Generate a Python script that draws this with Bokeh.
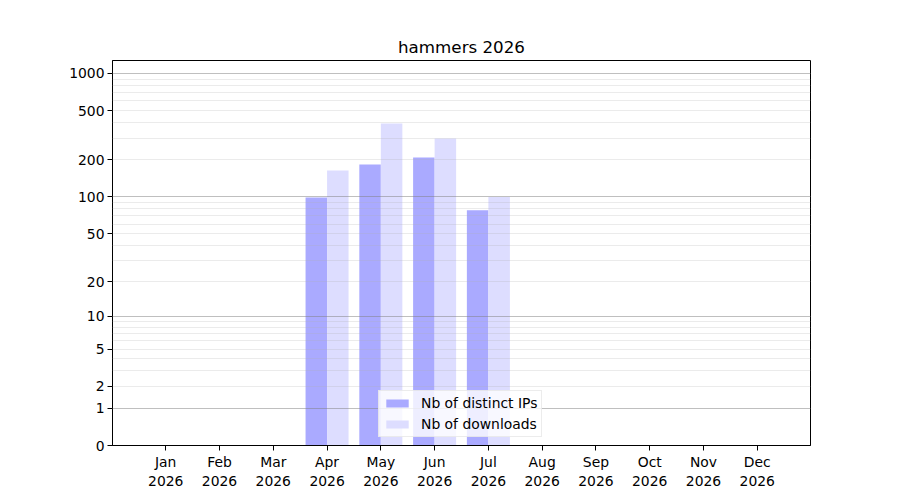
import numpy as np
from bokeh.plotting import figure
from bokeh.models import (ColumnDataSource, FixedTicker, Legend, LegendItem, Range1d)
from bokeh.embed import file_html
from bokeh.resources import INLINE

# ---- data ----
title_text = "hammers 2026"
months = ["Jan", "Feb", "Mar", "Apr", "May", "Jun",
          "Jul", "Aug", "Sep", "Oct", "Nov", "Dec"]
year = "2026"
ips = [0, 0, 0, 99, 184, 209, 78, 0, 0, 0, 0, 0]
downloads = [0, 0, 0, 164, 394, 298, 100, 0, 0, 0, 0, 0]
series_labels = ["Nb of distinct IPs", "Nb of downloads"]
y_tick_values = [0, 1, 2, 5, 10, 20, 50, 100, 200, 500, 1000]
y_major_grid = [1, 10, 100, 1000]
y_minor_grid = [m * d for d in (1, 10, 100) for m in range(2, 10)]


def fwd(v):
    # log10(1 + x) function scale
    return np.log10(1.0 + np.asarray(v, dtype=float))


x = np.arange(len(months))
src = ColumnDataSource(dict(
    x_ips=x - 0.2, x_dl=x + 0.2,
    top_ips=fwd(ips), top_dl=fwd(downloads),
))

FONT = "DejaVu Sans"

p = figure(width=900, height=500, output_backend="svg", toolbar_location=None,
           x_range=Range1d(-0.99, 11.99), y_range=Range1d(0, 3.105),
           min_border_left=112, min_border_right=90,
           min_border_top=60, min_border_bottom=55)

p.title.text = title_text
p.title.align = "center"
p.title.text_font = FONT
p.title.text_font_size = "16.7px"
p.title.text_font_style = "normal"
p.title.text_color = "black"
p.title.standoff = 7

r1 = p.vbar(x="x_ips", top="top_ips", bottom=0, width=0.4, source=src,
            fill_color="#aaaaff", line_color=None)
r2 = p.vbar(x="x_dl", top="top_dl", bottom=0, width=0.4, source=src,
            fill_color="#ddddff", line_color=None)

# axes
p.xaxis.ticker = FixedTicker(ticks=list(x))
p.xaxis.major_label_overrides = {int(i): f"{m}\n{year}" for i, m in zip(x, months)}
p.yaxis.ticker = FixedTicker(ticks=list(fwd(y_tick_values)))
p.yaxis.major_label_overrides = {float(t): str(v) for t, v in zip(fwd(y_tick_values), y_tick_values)}

for ax in (p.xaxis[0], p.yaxis[0]):
    ax.major_label_text_font = FONT
    ax.major_label_text_font_size = "13.9px"
    ax.major_label_text_color = "black"
    ax.major_tick_in = 0
    ax.major_tick_out = 5
    ax.major_tick_line_color = "black"
    ax.minor_tick_line_color = None
    ax.axis_line_color = "black"
    ax.major_label_standoff = 3

p.outline_line_color = "black"
p.outline_line_alpha = 1
p.outline_line_width = 1

p.xgrid.grid_line_color = None
p.ygrid.ticker = FixedTicker(ticks=list(fwd(y_major_grid)), minor_ticks=list(fwd(y_minor_grid)))
p.ygrid.grid_line_color = "#808080"
p.ygrid.grid_line_alpha = 0.5
p.ygrid.grid_line_width = 1
p.ygrid.minor_grid_line_color = "#b0b0b0"
p.ygrid.minor_grid_line_alpha = 0.25
p.ygrid.minor_grid_line_width = 1
p.ygrid.level = "guide"

legend = Legend(items=[LegendItem(label=series_labels[0], renderers=[r1]),
                       LegendItem(label=series_labels[1], renderers=[r2])],
                location=(266, 8))
legend.label_text_font = FONT
legend.label_text_font_size = "13.9px"
legend.label_text_color = "black"
legend.glyph_width = 28
legend.glyph_height = 10
legend.label_height = 14
legend.spacing = 5
legend.padding = 4
legend.margin = 0
legend.label_standoff = 10
legend.border_line_color = "#d9d9d9"
legend.background_fill_alpha = 0.8
p.add_layout(legend)

open("out.html", "w").write(file_html(p, INLINE))
